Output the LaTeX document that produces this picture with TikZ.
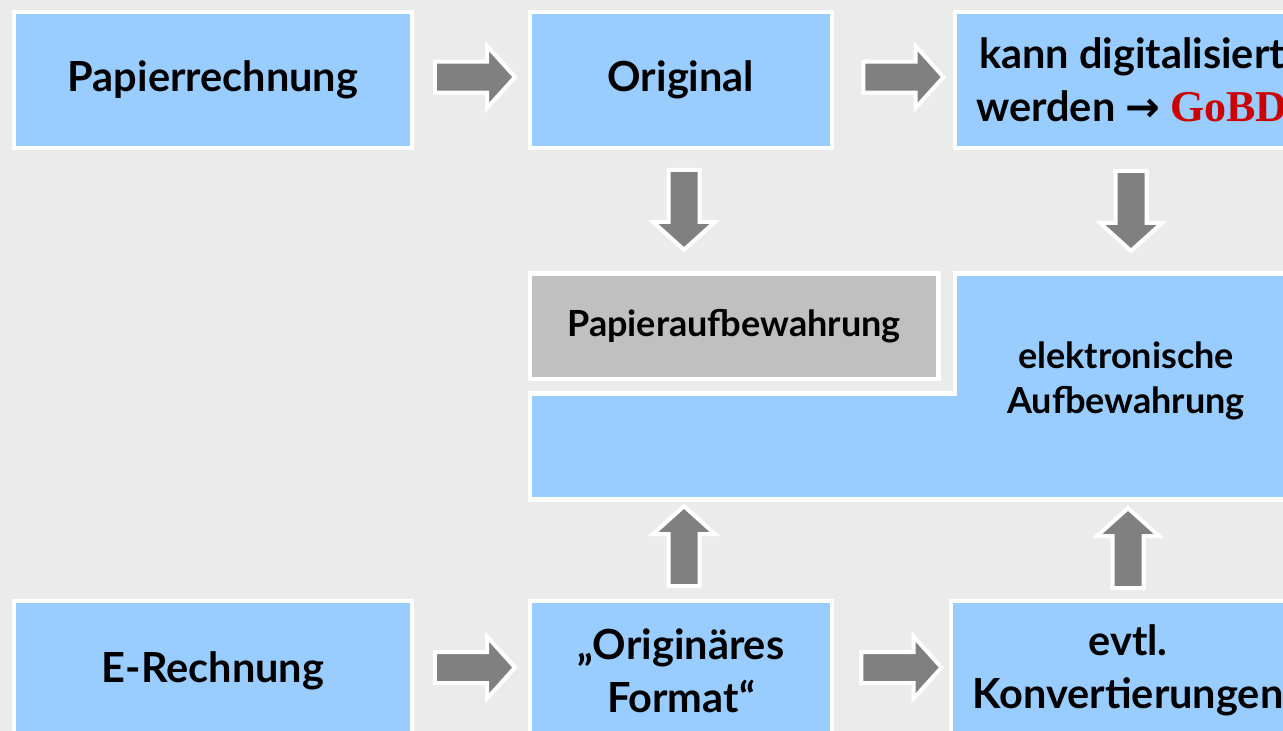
\documentclass[tikz,border=0pt]{standalone}
\usepackage{fontspec}
\setmainfont{Lato}
\newfontfamily\gobdfont{Liberation Serif}
\newfontfamily\symbfont{DejaVu Sans}
\usetikzlibrary{shapes.arrows,calc}
\definecolor{bgGray}{HTML}{EBEBEB}
\definecolor{boxBlue}{HTML}{99CCFF}
\definecolor{boxGray}{HTML}{C0C0C0}
\definecolor{arrowGray}{HTML}{808080}
\definecolor{gobdRed}{HTML}{CC0000}
\begin{document}
\begin{tikzpicture}[x=1pt,y=-1pt]
	% Set styles
	\tikzset{
		stepbox/.style={draw=white, line width=4.5pt, fill=boxBlue, minimum width=#1, minimum height=136pt, inner sep=0pt, align=center, font=\fontsize{41.5}{53}\selectfont\bfseries},
		keepbox/.style={stepbox=#1, fill=boxGray, minimum height=105.5pt, font=\fontsize{36}{45}\selectfont\bfseries},
		midtext/.style={align=center, inner sep=0pt, font=\fontsize{36}{45}\selectfont\bfseries},
		flowarrow/.style={single arrow, draw=white, line width=4pt, fill=arrowGray, minimum height=80pt, minimum width=58pt, inner sep=13.5pt, single arrow head extend=15.5pt, single arrow tip angle=96, shape border rotate=#1},
		flowarrow/.default=0
	}
	
	% Background
	\useasboundingbox (0,0) rectangle (1283,731);
	\fill[bgGray] (0,0) rectangle (1283,731);
	
	% Paper invoice row
	\node [stepbox=398pt] (papier) at (213,80) {Papierrechnung};
	\node [stepbox=302pt] (original) at (681,80) {Original};
	\node [stepbox=354pt] (digital) at (1132,80) {kann digitalisiert\\werden {\symbfont\bfseries →} {\gobdfont\fontsize{44}{53}\selectfont\color{gobdRed}GoBD}};
	
	% Storage
	\node [keepbox=408.5pt] (papierauf) at (734,326.3) {Papieraufbewahrung};
	\draw [draw=white, line width=4.5pt, fill=boxBlue] (530,393.5) -- (955,393.5) -- (955,273.5) -- (1300,273.5) -- (1300,499.5) -- (530,499.5) -- cycle;
	\node [midtext] (elek) at (1126,381) {elektronische\\Aufbewahrung};
	\coordinate (elekTop) at (1130,273.5);
	\coordinate (elekBot) at (681,499.5);
	
	% E-invoice row
	\node [stepbox=398pt, minimum height=139pt] (erech) at (213,670.5) {E-Rechnung};
	\node [stepbox=302pt, minimum height=139pt] (originaer) at (681,670.5) {„Originäres\\Format“};
	\node [stepbox=354pt, minimum height=139pt] (konv) at (1128,670.5) {evtl.\\Konvertierungen};
	
	% Arrows
	\node [flowarrow] (arrPO) at ($(papier.east)!0.5!(original.west) + (-3,-3)$) {};
	\node [flowarrow] (arrOD) at ($(original.east)!0.5!(digital.west) + (3,-3)$) {};
	\node [flowarrow=270] (arrOP) at ($(original.south)!0.5!(original.south |- papierauf.north) + (3,-8)$) {};
	\node [flowarrow=270] (arrDE) at ($(digital.south)!0.5!(elekTop) + (0,-8)$) {};
	\node [flowarrow=90] (arrFE) at ($(originaer.north)!0.5!(elekBot) + (3,4)$) {};
	\node [flowarrow=90] (arrKE) at ($(konv.north)!0.5!(konv.north |- elekBot) + (0,6)$) {};
	\node [flowarrow] (arrEO) at ($(erech.east)!0.5!(originaer.west) + (-3,-3)$) {};
	\node [flowarrow] (arrOK) at ($(originaer.east)!0.5!(konv.west) + (3,-3)$) {};
\end{tikzpicture}
\end{document}
